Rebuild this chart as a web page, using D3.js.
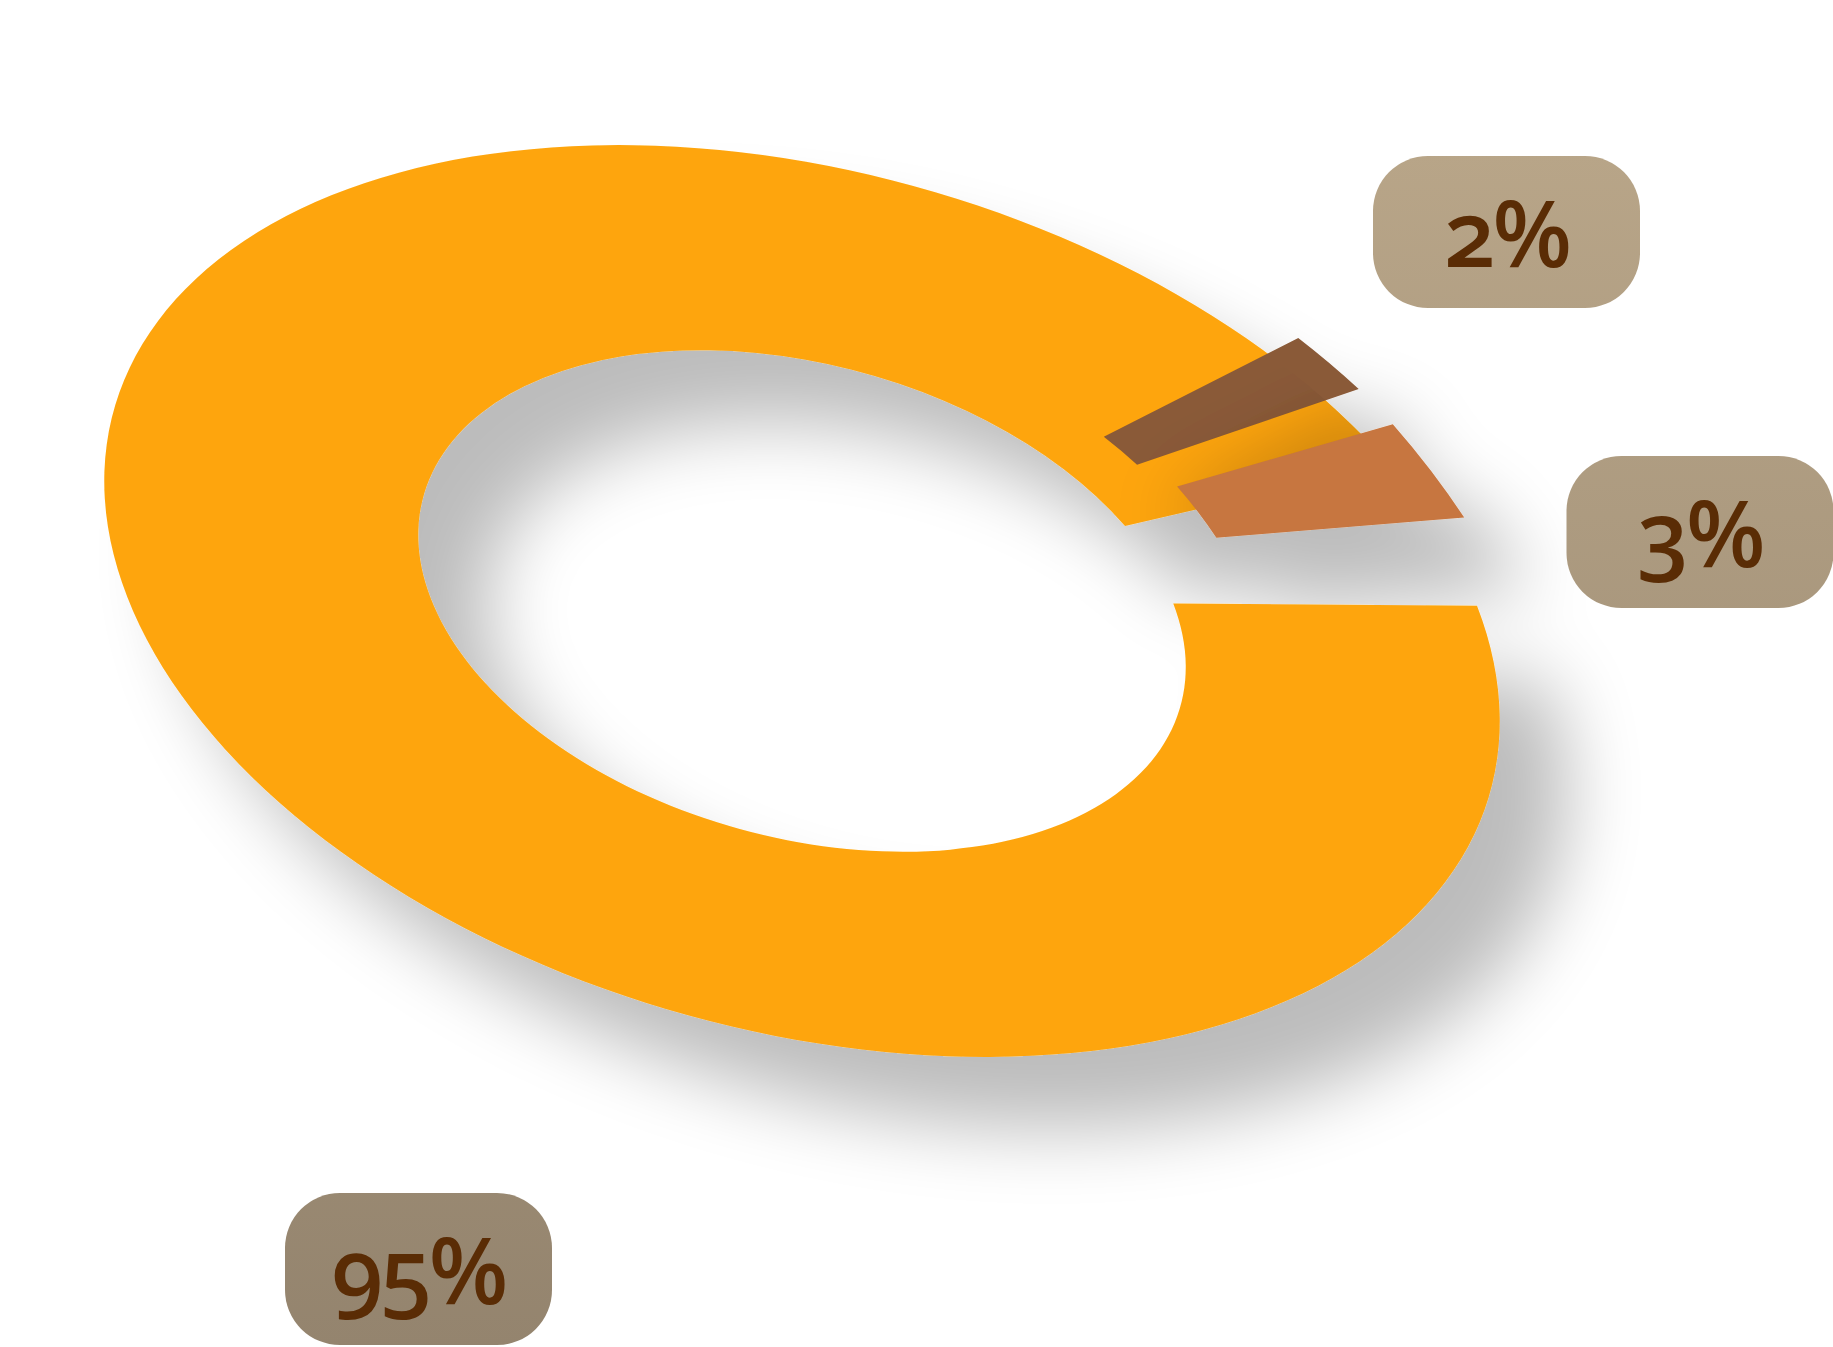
<!DOCTYPE html>
<html>
<head>
<meta charset="utf-8">
<script src="https://cdn.jsdelivr.net/npm/d3@7"></script>
<style>
html,body{margin:0;padding:0;background:#ffffff;overflow:hidden;}
svg{display:block;}
</style>
</head>
<body>
<svg id="chart" width="1833" height="1347" shape-rendering="geometricPrecision"></svg>
<script>
// ---- data ----
const sliceLabels = ["95%", "3%", "2%"];
const sliceValues = [95, 3, 2];
const sliceColors = ["#fea50b", "#c7763f", "#8a5a38"];

// ---- layout / style ----
const W = 1833, H = 1347;
const R = 1000, innerRatio = 0.55;
// affine "tilt" that maps the flat donut (radius R) onto the page
const tilt = {a: 0.1767, b: 0.4559, c: -0.675, d: -0.0047, e: 802, f: 601};
// pulled-out slices (flat donut units, fraction of R): apex offset, new mid angle, tangential / radial scale
const pull = {
  "3%": {x: -0.0865, y: -0.1877, mid: -14.35, sT: 1.121, sR: 0.848},
  "2%": {x: -0.0972, y: -0.1205, mid: -28.48, sT: 1.009, sR: 0.91}
};
const drawOrder = ["95%", "2%", "3%"];
const labelCenters = {"95%": [418.5, 1269], "3%": [1700, 532], "2%": [1506.5, 232]};
const boxW = 267, boxH = 152, boxR = 55;
const shadow = {dx: 68, dy: 72, blur: 38, opacity: 0.265};

const svg = d3.select("#chart");
const defs = svg.append("defs");

// drop shadow under the whole donut
const flt = defs.append("filter").attr("id", "shadow")
  .attr("filterUnits", "userSpaceOnUse")
  .attr("x", -200).attr("y", -200).attr("width", W + 400).attr("height", H + 400);
flt.append("feGaussianBlur").attr("in", "SourceAlpha").attr("stdDeviation", shadow.blur).attr("result", "blur");
flt.append("feOffset").attr("in", "blur").attr("dx", shadow.dx).attr("dy", shadow.dy).attr("result", "off");
flt.append("feComponentTransfer").attr("in", "off").attr("result", "sh")
  .append("feFuncA").attr("type", "linear").attr("slope", shadow.opacity);
const mrg = flt.append("feMerge");
mrg.append("feMergeNode").attr("in", "sh");
mrg.append("feMergeNode").attr("in", "SourceGraphic");

// shadow only (for the pulled slice falling on the ring)
const flt2 = defs.append("filter").attr("id", "castShadow")
  .attr("filterUnits", "userSpaceOnUse")
  .attr("x", -200).attr("y", -200).attr("width", W + 400).attr("height", H + 400);
flt2.append("feGaussianBlur").attr("in", "SourceAlpha").attr("stdDeviation", shadow.blur).attr("result", "blur");
flt2.append("feOffset").attr("in", "blur").attr("dx", shadow.dx).attr("dy", shadow.dy).attr("result", "off");
flt2.append("feComponentTransfer").attr("in", "off")
  .append("feFuncA").attr("type", "linear").attr("slope", shadow.opacity);

const grad = defs.append("linearGradient").attr("id", "boxGrad")
  .attr("gradientUnits", "userSpaceOnUse")
  .attr("x1", 0).attr("y1", 150).attr("x2", 0).attr("y2", 1347);
grad.append("stop").attr("offset", 0).attr("stop-color", "#b8a588");
grad.append("stop").attr("offset", 1).attr("stop-color", "#94846e");

const pie = d3.pie().sort(null).value(d => d);
const arcs = pie(sliceValues);
const arc = d3.arc().innerRadius(R * innerRatio).outerRadius(R);

const tiltStr = `matrix(${tilt.a},${tilt.b},${tilt.c},${tilt.d},${tilt.e},${tilt.f})`;
function sliceTransform(d) {
  const lab = sliceLabels[d.index];
  let tr = tiltStr;
  const p = pull[lab];
  if (p) {
    const nominalMid = (d.startAngle + d.endAngle) / 2 * 180 / Math.PI;
    tr += ` translate(${p.x * R},${p.y * R}) rotate(${p.mid}) scale(${p.sT},${p.sR}) rotate(${-nominalMid})`;
  }
  return tr;
}

const main = arcs[sliceLabels.indexOf("95%")];
defs.append("clipPath").attr("id", "ringClip")
  .attr("clipPathUnits", "userSpaceOnUse")
  .append("path").attr("d", arc(main)).attr("transform", sliceTransform(main));

const sliceG = svg.append("g").attr("class", "slices").attr("filter", "url(#shadow)");
drawOrder.forEach(lab => {
  const d = arcs[sliceLabels.indexOf(lab)];
  if (lab === "3%") {
    // shadow of the 2% slice on the ring
    const d2 = arcs[sliceLabels.indexOf("2%")];
    sliceG.append("g").attr("clip-path", "url(#ringClip)")
      .append("g").attr("filter", "url(#castShadow)")
      .append("path").attr("d", arc(d2)).attr("transform", sliceTransform(d2)).attr("fill", "#000");
  }
  sliceG.append("path")
    .attr("d", arc(d))
    .attr("transform", sliceTransform(d))
    .attr("fill", sliceColors[d.index]);
});

const labelG = svg.append("g").attr("class", "labels");
arcs.forEach(d => {
  const lab = sliceLabels[d.index];
  const [cx, cy] = labelCenters[lab];
  labelG.append("rect")
    .attr("x", cx - boxW / 2).attr("y", cy - boxH / 2)
    .attr("width", boxW).attr("height", boxH)
    .attr("rx", boxR).attr("ry", boxR)
    .attr("fill", "url(#boxGrad)");
  labelG.append("text")
    .attr("x", cx).attr("y", cy + 35)
    .attr("text-anchor", "middle")
    .attr("font-family", "'Open Sans', 'Noto Sans', sans-serif")
    .attr("font-weight", 600)
    .attr("font-size", 92)
    .attr("letter-spacing", -3)
    .style("font-feature-settings", "'onum' 1")
    .style("font-variant-numeric", "oldstyle-nums")
    .attr("fill", "#5a2c05")
    .text(lab);
});
</script>
</body>
</html>
